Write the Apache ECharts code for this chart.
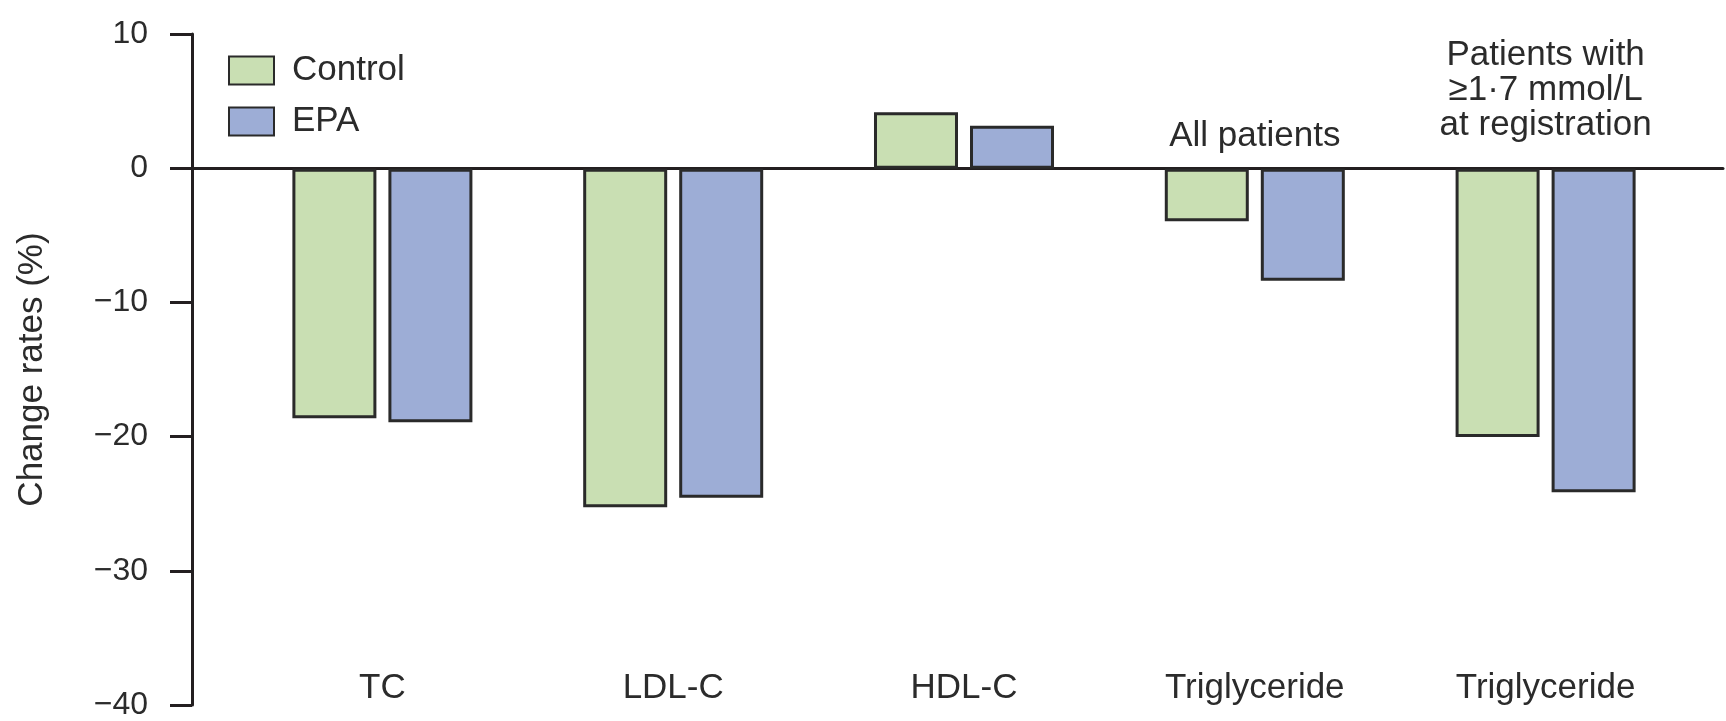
<!DOCTYPE html>
<html>
<head>
<meta charset="utf-8">
<script src="https://cdn.jsdelivr.net/npm/echarts@6/dist/echarts.min.js"></script>
<style>
  html, body { margin: 0; padding: 0; background: #ffffff; }
  #chart { width: 1726px; height: 721px; }
</style>
</head>
<body>
<div id="chart"></div>
<script>
// Lipid change rates by group
const categories = ['TC', 'LDL-C', 'HDL-C', 'Triglyceride', 'Triglyceride'];
const controlValues = [-18.5, -25.1, 4.2, -3.9, -19.9];
const epaValues = [-18.8, -24.4, 3.2, -8.3, -24.0];
const seriesNames = ['Control', 'EPA'];
const yMin = -40;
const yMax = 10;
const yStep = 10;
const yTitle = 'Change rates (%)';
// group captions drawn above the triglyceride bars
const groupCaptions = [
  { index: 3, lines: ['All patients'] },
  { index: 4, lines: ['Patients with', '\u22651\u00b77 mmol/L', 'at registration'] }
];

const FONT = '"Liberation Sans", Arial, sans-serif';
const INK = '#2b2b2b';
const AXIS = '#231f20';
const GREEN = '#c9dfb3';
const BLUE = '#9dadd6';
const EDGE = '#2a2a2a';

const chart = echarts.init(document.getElementById('chart'), null, { renderer: 'canvas' });

const option = {
  animation: false,
  backgroundColor: '#ffffff',
  textStyle: { fontFamily: FONT, color: INK },
  grid: [
    { left: 237, right: 35, top: 34, bottom: 13 },
    { left: 192, right: 3, top: 34, bottom: 13 }
  ],
  legend: {
    orient: 'vertical',
    left: 228,
    top: 53,
    padding: 0,
    icon: 'rect',
    itemWidth: 45,
    itemHeight: 28,
    itemGap: 16,
    data: seriesNames,
    textStyle: { fontFamily: FONT, fontSize: 35, color: INK, padding: [0, 0, 0, 13], lineHeight: 28 }
  },
  xAxis: [
    {
      type: 'category',
      gridIndex: 0,
      data: categories,
      position: 'bottom',
      axisLine: { show: false, onZero: false },
      axisTick: { show: false },
      axisLabel: { inside: true, margin: 2, fontFamily: FONT, fontSize: 35, color: INK, interval: 0 }
    },
    {
      type: 'category',
      gridIndex: 1,
      data: categories,
      axisLine: { show: true, onZero: true, lineStyle: { color: AXIS, width: 3 } },
      axisTick: { show: false },
      axisLabel: { show: false }
    }
  ],
  yAxis: [
    {
      type: 'value',
      gridIndex: 0,
      min: yMin, max: yMax, interval: yStep,
      show: false
    },
    {
      type: 'value',
      gridIndex: 1,
      min: yMin, max: yMax, interval: yStep,
      splitLine: { show: false },
      axisLine: { show: true, lineStyle: { color: AXIS, width: 3 } },
      axisTick: { show: true, inside: false, length: 22, lineStyle: { color: AXIS, width: 3 } },
      axisLabel: {
        margin: 44,
        fontFamily: FONT,
        fontSize: 32,
        color: INK,
        formatter: v => String(v).replace('-', '\u2212')
      },
      name: yTitle,
      nameLocation: 'middle',
      nameGap: 142,
      nameRotate: 90,
      nameTextStyle: { fontFamily: FONT, fontSize: 35, color: INK }
    }
  ],
  series: [
    {
      name: seriesNames[0],
      type: 'bar',
      xAxisIndex: 0, yAxisIndex: 0,
      data: controlValues,
      barWidth: 84,
      barGap: '14.3%',
      itemStyle: { color: GREEN, borderColor: EDGE, borderWidth: 3 }
    },
    {
      name: seriesNames[1],
      type: 'bar',
      xAxisIndex: 0, yAxisIndex: 0,
      data: epaValues,
      barWidth: 84,
      barGap: '14.3%',
      itemStyle: { color: BLUE, borderColor: EDGE, borderWidth: 3 }
    }
  ]
};

chart.setOption(option);

// place the group captions centred over their categories
const captionBottoms = [154, 143];
const captionLineHeight = 35;
const graphics = groupCaptions.map((c, i) => {
  const x = chart.convertToPixel({ xAxisIndex: 0 }, c.index);
  return {
    type: 'text',
    x: x,
    y: captionBottoms[i],
    style: {
      text: c.lines.join('\n'),
      font: '35px ' + FONT,
      fill: INK,
      align: 'center',
      verticalAlign: 'bottom',
      lineHeight: captionLineHeight
    }
  };
});
chart.setOption({ graphic: graphics });
</script>
</body>
</html>
